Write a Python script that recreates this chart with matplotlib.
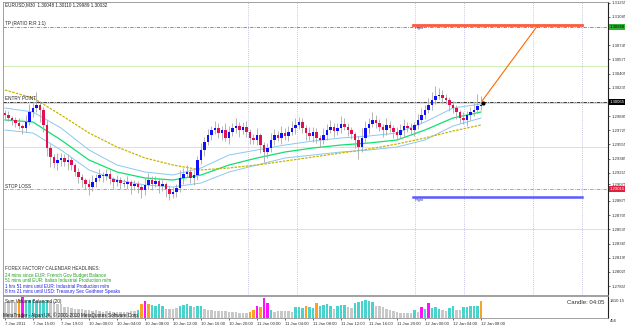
import numpy as np
import matplotlib
matplotlib.use("Agg")
import matplotlib.pyplot as plt
from matplotlib.transforms import blended_transform_factory

plt.rcParams["font.family"] = ["Liberation Sans", "DejaVu Sans"]

# EURUSD M30 candles (close prices), open = previous close
first_open = 1.2993
closes = [
    1.29907, 1.29871, 1.29847, 1.29811, 1.29775, 1.29751, 1.29823, 1.29943, 1.29991, 1.30027,
    1.29967, 1.29787, 1.29511, 1.29403, 1.29331, 1.29367, 1.29391, 1.29343, 1.29367, 1.29307,
    1.29223, 1.29163, 1.29127, 1.29079, 1.29043, 1.29103, 1.29151, 1.29187, 1.29175, 1.29199,
    1.29139, 1.29103, 1.29127, 1.29091, 1.29079, 1.29103, 1.29055, 1.29079, 1.29043, 1.29007,
    1.29067, 1.29127, 1.29079, 1.29115, 1.29055, 1.29079, 1.29019, 1.28959, 1.28983, 1.29031,
    1.29151, 1.29199, 1.29223, 1.29151, 1.29187, 1.29367, 1.29487, 1.29583, 1.29667, 1.29727,
    1.29751, 1.29691, 1.29727, 1.29631, 1.29703, 1.29751, 1.29775, 1.29727, 1.29763, 1.29703,
    1.29631, 1.29607, 1.29667, 1.29547, 1.29463, 1.29511, 1.29607, 1.29667, 1.29631, 1.29691,
    1.29655, 1.29703, 1.29751, 1.29787, 1.29823, 1.29751, 1.29691, 1.29655, 1.29703, 1.29631,
    1.29607, 1.29667, 1.29727, 1.29763, 1.29715, 1.29751, 1.29799, 1.29763, 1.29727, 1.29679,
    1.29607, 1.29523, 1.29631, 1.29751, 1.29799, 1.29847, 1.29811, 1.29763, 1.29727, 1.29787,
    1.29751, 1.29703, 1.29667, 1.29727, 1.29775, 1.29751, 1.29727, 1.29787, 1.29847, 1.29907,
    1.29967, 1.30027, 1.30087, 1.30135, 1.30147, 1.30111, 1.30087, 1.30027, 1.29991, 1.29943,
    1.29871, 1.29847, 1.29907, 1.29943, 1.29967, 1.30015, 1.30032,
]
# wick lengths in pips above / below the candle body
upper_wick = [
    4, 5, 3, 4, 6, 3, 8, 10, 6, 16,
    5, 4, 6, 5, 4, 8, 6, 5, 7, 4,
    3, 5, 4, 3, 6, 8, 5, 7, 4, 6,
    5, 3, 6, 4, 5, 7, 3, 5, 4, 3,
    8, 9, 5, 6, 4, 5, 3, 4, 6, 5,
    10, 7, 8, 4, 6, 5, 8, 6, 7, 5,
    9, 6, 5, 8, 7, 6, 10, 5, 6, 7,
    4, 5, 8, 3, 4, 6, 9, 7, 5, 8,
    6, 7, 9, 8, 6, 5, 4, 7, 6, 5,
    4, 8, 7, 9, 5, 6, 10, 7, 5, 4,
    3, 5, 12, 8, 7, 10, 6, 5, 4, 9,
    5, 4, 6, 7, 8, 5, 6, 4, 7, 8,
    6, 9, 10, 12, 8, 6, 5, 4, 5, 4,
    3, 7, 5, 6, 8, 14, 10,
]
lower_wick = [
    5, 4, 6, 5, 4, 7, 5, 4, 6, 5,
    14, 8, 10, 12, 6, 8, 7, 5, 9, 6,
    5, 7, 8, 6, 10, 5, 6, 4, 7, 5,
    6, 8, 5, 7, 4, 6, 9, 5, 7, 10,
    6, 5, 7, 4, 8, 6, 9, 7, 5, 6,
    5, 7, 4, 6, 8, 6, 5, 7, 4, 6,
    5, 6, 8, 4, 7, 5, 6, 8, 5, 6,
    7, 5, 6, 9, 12, 7, 5, 6, 4, 7,
    5, 6, 4, 7, 5, 6, 8, 5, 7, 6,
    8, 5, 6, 4, 7, 5, 6, 4, 7, 6,
    9, 14, 6, 5, 7, 4, 6, 5, 8, 6,
    5, 7, 6, 4, 8, 5, 6, 7, 5, 4,
    5, 4, 6, 5, 4, 6, 5, 7, 6, 8,
    6, 5, 7, 6, 5, 4, 5,
]

# moving averages read every 8 candles
ma_idx = [0, 8, 16, 24, 32, 40, 48, 56, 64, 72, 80, 88, 96, 104, 112, 120, 128, 136]
ma_slow = [1.30207, 1.30111, 1.29907, 1.29691, 1.29523, 1.29391, 1.29307, 1.29247, 1.29271,
           1.29307, 1.29355, 1.29403, 1.29451, 1.29499, 1.29559, 1.29631, 1.29715, 1.29787]
ma_fast = [1.29847, 1.29823, 1.29607, 1.29367, 1.29223, 1.29151, 1.29127, 1.29187, 1.29307,
           1.29391, 1.29463, 1.29511, 1.29547, 1.29571, 1.29607, 1.29727, 1.29871, 1.29943]
band_up = [1.29991, 1.29943, 1.29751, 1.29487, 1.29307, 1.29223, 1.29187, 1.29271, 1.29427,
           1.29487, 1.29547, 1.29595, 1.29631, 1.29655, 1.29691, 1.29823, 1.29991, 1.30039]
band_dn = [1.29727, 1.29691, 1.29487, 1.29247, 1.29127, 1.29067, 1.29043, 1.29091, 1.29223,
           1.29307, 1.29391, 1.29427, 1.29463, 1.29487, 1.29523, 1.29607, 1.29775, 1.29871]

# Sum Volume Balanced (20)
volume = [
    1050, 1100, 1000, 1080, 1250, 1400, 1150, 1200, 1180, 1120,
    1100, 1150, 1200, 1100, 1050, 950, 900, 750, 700, 650,
    600, 620, 580, 550, 520, 480, 500, 450, 420, 460,
    440, 400, 420, 380, 400, 420, 450, 480, 500, 900,
    1100, 950, 850, 800, 900, 820, 620, 600, 580, 640,
    820, 880, 900, 780, 700, 760, 800, 620, 540, 500,
    480, 460, 450, 430, 420, 400, 380, 360, 340, 320,
    380, 500, 800, 700, 1350, 1000, 500, 420, 450, 480,
    460, 440, 420, 700, 720, 680, 820, 720, 650, 1000,
    780, 850, 900, 760, 600, 820, 880, 850, 700, 680,
    1000, 1080, 1150, 1200, 1100, 1050, 820, 760, 700, 600,
    520, 460, 380, 360, 350, 340, 360, 500, 400, 700,
    600, 1000, 650, 700, 620, 500, 480, 650, 800, 520,
    500, 700, 750, 800, 780, 760, 1100,
]
vol_kind = ("ggggomtttt" "tttggggggg" "gggggggggg" "ggggggggto" "mottttgggg"
            "ttttgttggg" "gggggggggg" "oomommtggg" "gggtttotto" "ttttgtttgg"
            "ttttttgggg" "gggggggtgm" "tmtttggttg" "gttttto")

# trade levels
tp_level = 1.30960
entry_level = 1.30065
sl_level = 1.29015
pivots = [1.30495, 1.29523, 1.28539]
target_line = 1.30987
right_line = 1.28923
box_start, box_end = 116.6, 164.9
arrow_from = (136.3, 1.30075)
arrow_to = (152.3, 1.30987)
separators = [69.4, 83.4, 117.1, 131.1, 150.9, 164.9]

price_ticks = [1.31255, 1.31085, 1.30745, 1.30575, 1.30405, 1.30235, 1.29895, 1.29725,
               1.29555, 1.29385, 1.29215, 1.29075, 1.28875, 1.28705, 1.28535, 1.28365,
               1.28195, 1.28025, 1.27855]
time_idx = [0, 8, 16, 24, 32, 40, 48, 56, 64, 72, 80, 88, 96, 104, 112, 120, 128, 136]
time_labels = ["7 Jan 2011", "7 Jan 15:00", "7 Jan 19:00", "10 Jan 00:00", "10 Jan 04:00",
               "10 Jan 08:00", "10 Jan 12:00", "10 Jan 16:00", "10 Jan 20:00", "11 Jan 00:00",
               "11 Jan 04:00", "11 Jan 08:00", "11 Jan 12:00", "11 Jan 16:00", "11 Jan 20:00",
               "12 Jan 00:00", "12 Jan 04:00", "12 Jan 08:00"]

W, H = 625, 327
fig = plt.figure(figsize=(W / 100, H / 100), dpi=100)
fs = 3.3
afs = 3.1


def fx(x):
    return x / W


def fy(y):
    return 1 - y / H


ax = fig.add_axes([fx(3), fy(295), fx(605), 293 / H])
vax = fig.add_axes([fx(3), fy(318), fx(605), 22 / H])
xlim = (-0.571, 172.29)

# candles
n = len(closes)
idx = np.arange(n)
cl = np.array(closes)
op = np.array([first_open] + closes[:-1])
lo_b = np.minimum(op, cl)
hi_b = np.maximum(op, cl)
highs = hi_b + np.array(upper_wick) * 0.0001
lows = lo_b - np.array(lower_wick) * 0.0001
ax.vlines(idx, lows, highs, color="#a8a8a8", lw=0.6, zorder=3)
hgt = np.maximum(hi_b - lo_b, 0.00004)
up = cl >= op
ax.bar(idx[up], hgt[up], bottom=lo_b[up], width=0.62, color="#1010ff", lw=0, zorder=4)
ax.bar(idx[~up], hgt[~up], bottom=lo_b[~up], width=0.62, color="#e2104e", lw=0, zorder=4)

# indicators
ax.plot(ma_idx, band_up, color="#8cc8f0", lw=0.7, zorder=2)
ax.plot(ma_idx, band_dn, color="#8cc8f0", lw=0.7, zorder=2)
ax.plot(ma_idx, ma_fast, color="#10e070", lw=0.9, zorder=2)
ax.plot(ma_idx, ma_slow, color="#c8b400", lw=0.9, ls=(0, (2, 1)), zorder=2)

# levels
for p in pivots:
    ax.axhline(p, color="#c8eca8", lw=0.6, zorder=1)
for s in separators:
    ax.axvline(s, color="#b4b4e0", lw=0.6, ls=(0, (1, 1.5)), zorder=1)
ax.axhline(tp_level, color="#30b030", lw=0.6, ls=(0, (4, 1.5, 1, 1.5)), zorder=2)
ax.axhline(entry_level - 0.00018, color="#d4d4d4", lw=1.2, zorder=1)
ax.axhline(entry_level, color="#202020", lw=0.6, ls=(0, (4, 1.5, 1, 1.5)), zorder=2)
ax.axhline(sl_level, color="#f07070", lw=0.6, ls=(0, (4, 1.5, 1, 1.5)), zorder=2)
ax.plot([box_start, box_end], [target_line, target_line], color="#ff5a3c", lw=2.0, zorder=5)
ax.plot([box_start, box_end], [right_line, right_line], color="#5a5aff", lw=1.8, zorder=5)
ax.plot([arrow_from[0], arrow_to[0]], [arrow_from[1], arrow_to[1]], color="#ff6a00", lw=0.8, zorder=5)
ax.plot([arrow_from[0] + 0.4], [arrow_from[1] - 0.0002], "o", color="black", ms=2, zorder=6)
ax.text(box_start + 0.3, target_line - 0.0004, "Right", fontsize=2.8, color="#3030a0", va="center")
ax.text(box_start + 0.3, right_line - 0.0004, "Right", fontsize=2.8, color="#3030a0", va="center")

ax.set_xlim(*xlim)
ax.set_ylim(1.27747, 1.31263)
ax.set_xticks([])
ax.yaxis.tick_right()
ax.set_yticks(price_ticks)
ax.set_yticklabels(["%.5f" % t for t in price_ticks])
ax.tick_params(axis="y", labelsize=afs, length=1.5, pad=0.8, width=0.5, colors="#303030")
for side in ["top", "left", "bottom"]:
    ax.spines[side].set_color("#909090")
    ax.spines[side].set_linewidth(0.6)
ax.spines["right"].set_color("#202020")
ax.spines["right"].set_linewidth(0.8)

tr = blended_transform_factory(ax.transAxes, ax.transData)
for lvl, txt, fc, tc in [(tp_level, "1.30960", "#30b030", "black"),
                         (entry_level, "1.30065", "black", "white"),
                         (sl_level, "1.29015", "#e0203c", "white")]:
    ax.text(1.003, lvl, txt, transform=tr, fontsize=afs, va="center", ha="left", color=tc,
            bbox=dict(boxstyle="square,pad=0.2", fc=fc, ec="none"), clip_on=False, zorder=10)

# volume panel
cmap = {"g": "#c8c8c8", "t": "#48d4cc", "o": "#ffa020", "m": "#ff10ff"}
vax.bar(idx, volume, width=0.75, color=[cmap[k] for k in vol_kind], lw=0)
vax.set_xlim(*xlim)
vax.set_ylim(0, 1450)
vax.set_yticks([])
vax.set_xticks(time_idx)
vax.set_xticklabels(time_labels, ha="left")
vax.tick_params(axis="x", labelsize=afs, length=1.5, pad=1.2, width=0.5, colors="#303030")
for side in ["top", "left", "bottom"]:
    vax.spines[side].set_color("#909090")
    vax.spines[side].set_linewidth(0.6)
vax.spines["right"].set_color("#202020")
vax.spines["right"].set_linewidth(0.8)

# texts
fig.text(fx(5), fy(5), "EURUSD,M30  1.30048 1.30110 1.29989 1.30032", fontsize=fs, va="center", color="#202020")
fig.text(fx(5), fy(24), "TP (RATIO R:R 1:1)", fontsize=fs, va="center", color="#202020")
fig.text(fx(5), fy(99), "ENTRY POINT", fontsize=fs, va="center", color="#202020")
fig.text(fx(5), fy(186), "STOP LOSS", fontsize=fs, va="center", color="#202020")
fig.text(fx(5), fy(269), "FOREX FACTORY CALENDAR HEADLINES:", fontsize=fs, va="center", color="#303030")
news = [("24 mins since EUR: French Gov Budget Balance", "#20a020"),
        ("51 mins until EUR: Italian Industrial Production m/m", "#20a020"),
        ("1 hrs 51 mins until EUR: Industrial Production m/m", "#2020e0"),
        ("8 hrs 21 mins until USD: Treasury Sec Geithner Speaks", "#2020e0")]
for k, (txt, c) in enumerate(news):
    fig.text(fx(5), fy(275 + 5.6 * k), txt, fontsize=fs, va="center", color=c)
fig.text(fx(5), fy(301), "Sum Volume Balanced (20)", fontsize=fs, va="center", color="#202020")
fig.text(fx(3), fy(315), "MetaTrader - Alpari UK, \u00a9 2001-2010 MetaQuotes Software Corp.",
         fontsize=fs, va="center", color="#101010")
fig.text(fx(604), fy(302), "Candle: 04:05", fontsize=4.3, va="center", ha="right", color="#303030")
fig.text(fx(610), fy(301), "1410.15", fontsize=afs, va="center", color="#303030")
fig.text(fx(610), fy(321), "456", fontsize=afs, va="center", color="#303030")

fig.savefig("out.png", dpi=100, facecolor="white")
